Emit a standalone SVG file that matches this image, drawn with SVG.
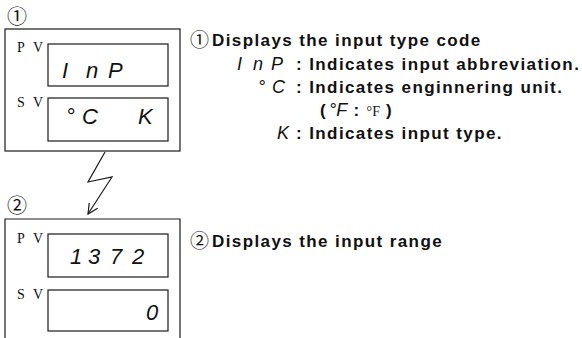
<svg xmlns="http://www.w3.org/2000/svg" width="582" height="338" viewBox="0 0 582 338">
<style>
.frame{fill:none;stroke:#1a1a1a;stroke-width:1.2}
.lbl{font-family:"Liberation Serif",serif;font-size:14px;fill:#111}
.seg{font-family:"Liberation Sans",Arial,sans-serif;font-style:italic;font-size:22px;fill:#111}
.segs{font-family:"Liberation Sans",Arial,sans-serif;font-style:italic;font-weight:normal;letter-spacing:0;font-size:18px;fill:#111}
.note{font-family:"Liberation Sans",Arial,sans-serif;font-weight:bold;font-size:17px;letter-spacing:1.4px;fill:#111}
.circ{font-family:"Noto Sans CJK JP",sans-serif;fill:#111}
.ser{font-family:"Liberation Serif",serif;font-weight:normal;letter-spacing:0;font-size:14px;fill:#111}
</style>
<defs>
<marker id="arr" markerWidth="12" markerHeight="12" refX="10" refY="5" orient="auto" markerUnits="userSpaceOnUse">
<path d="M0,0 L10,5 L0,10" fill="none" stroke="#1a1a1a" stroke-width="1.2"/>
</marker>
</defs>
<g id="panel1">
<text class="circ" x="7" y="24" font-size="20">①</text>
<rect class="frame" x="5" y="29" width="175" height="122"/>
<text class="lbl" x="17 33" y="52">PV</text>
<rect class="frame" x="48" y="44" width="120" height="42"/>
<text class="lbl" x="17 33" y="107">SV</text>
<rect class="frame" x="48" y="98" width="120" height="43"/>
<text class="seg" x="62 86 108" y="78">InP</text>
<text class="seg" x="66 82 138" y="124">°CK</text>
</g>
<g id="panel2">
<text class="circ" x="7" y="213" font-size="20">②</text>
<path class="frame" d="M5,338 V219 H180 V338"/>
<text class="lbl" x="17 33" y="243">PV</text>
<rect class="frame" x="48" y="234" width="120" height="43"/>
<text class="lbl" x="17 33" y="299">SV</text>
<rect class="frame" x="48" y="290" width="120" height="41"/>
<text class="seg" x="70 88 110 132" y="264">1372</text>
<text class="seg" x="146" y="320">0</text>
</g>
<g id="connectors">
<polyline points="105,152 88,182 112,177 88,214" fill="none" stroke="#1a1a1a" stroke-width="1.2" marker-end="url(#arr)"/>
</g>
<g id="notes">
<text class="circ" x="190" y="47" font-size="19">①</text>
<text class="note" x="212" y="46">Displays the input type code</text>
<text class="segs" x="237 253 271" y="70">InP</text>
<text class="note" x="296" y="70">: Indicates input abbreviation.</text>
<text class="segs" x="258 272" y="93">°C</text>
<text class="note" x="296" y="93">: Indicates enginnering unit.</text>
<text class="note" x="320" y="116">(<tspan class="segs" dx="2">°F</tspan> : <tspan class="ser">°F</tspan> )</text>
<text class="segs" x="277" y="139">K</text>
<text class="note" x="296" y="139">: Indicates input type.</text>
<text class="circ" x="190" y="248" font-size="19">②</text>
<text class="note" x="212" y="247">Displays the input range</text>
</g>
</svg>
